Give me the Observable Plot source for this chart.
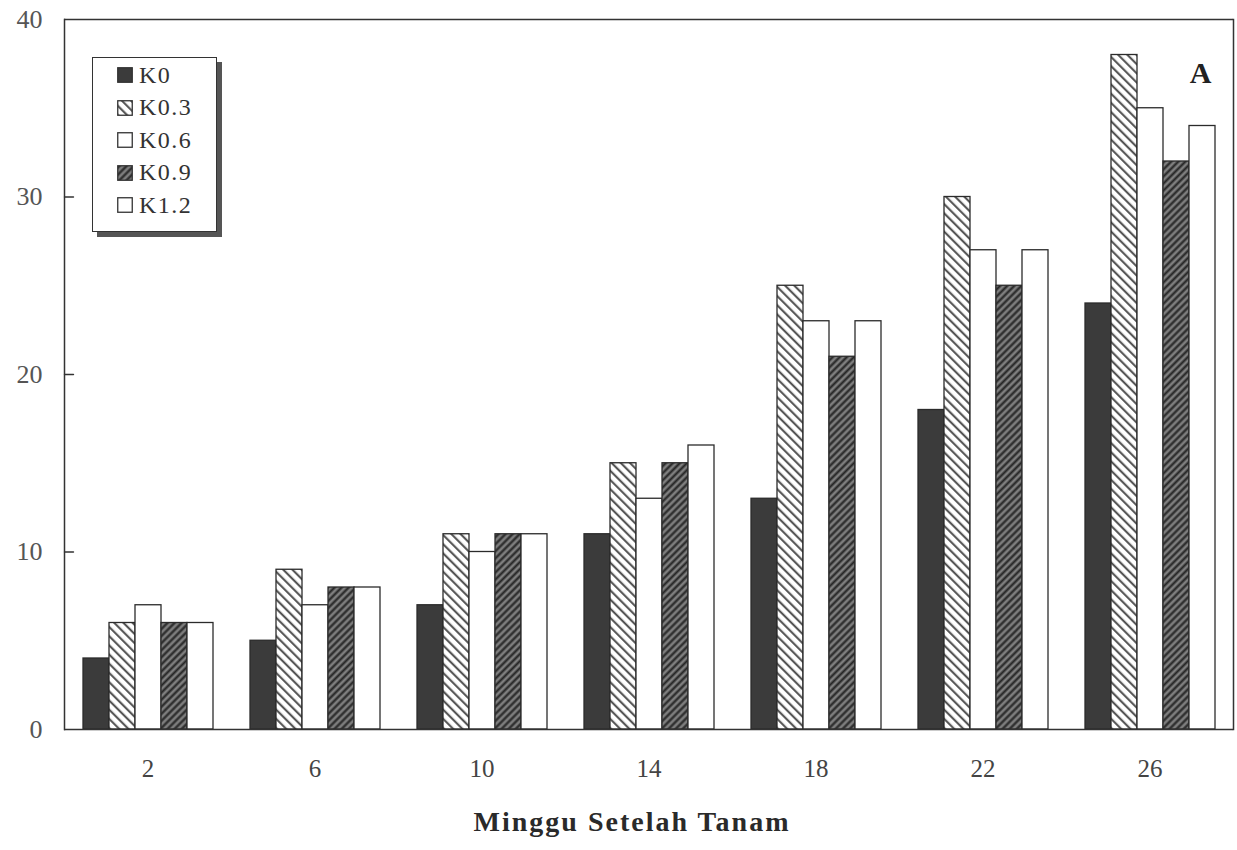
<!DOCTYPE html>
<html><head><meta charset="utf-8">
<script src="https://cdn.jsdelivr.net/npm/d3@7"></script>
<script src="https://cdn.jsdelivr.net/npm/@observablehq/plot@0.6"></script>
<style>
body{margin:0;background:#fff;font-family:"Liberation Serif","Times New Roman",serif;}
#wrap{position:relative;width:1237px;height:850px;}
#legend{position:absolute;left:92px;top:57px;width:125px;height:175px;border:1.5px solid #333;background:#fff;box-shadow:5px 5px 0 #555;box-sizing:border-box;padding:1px 0 0 24px;}
.item{display:flex;align-items:center;height:32.5px;font-size:24px;color:#333;letter-spacing:1.5px}
.item svg{margin-right:6px}
</style></head><body><div id="wrap"></div>
<script>
const weeks = ["2","6","10","14","18","22","26"];
const series = ["K0","K0.3","K0.6","K0.9","K1.2"];
const K0  = [4,5,7,11,13,18,24];
const K03 = [6,9,11,15,25,30,38];
const K06 = [7,7,10,13,23,27,35];
const K09 = [6,8,11,15,21,25,32];
const K12 = [6,8,11,16,23,27,34];
const yTicks = [0,10,20,30,40];
const innerTicks = [10,20,30];
const fills = ["#3b3b3b","url(#hatchLight)","#ffffff","url(#hatchDark)","#ffffff"];
const xTitle = "Minggu Setelah Tanam";
const panelLabel = "A";

const valuesBySeries = [K0,K03,K06,K09,K12];
const data = weeks.flatMap((w,i)=>series.map((s,j)=>({week:w, series:s, value:valuesBySeries[j][i]})));

const defsMarkup = `
<pattern id="hatchLight" patternUnits="userSpaceOnUse" width="6.5" height="6.5" patternTransform="rotate(-45)">
  <rect width="6.5" height="6.5" fill="#ffffff"/>
  <line x1="3" y1="0" x2="3" y2="6.5" stroke="#4a4a4a" stroke-width="2"/>
</pattern>
<pattern id="hatchDark" patternUnits="userSpaceOnUse" width="5" height="5" patternTransform="rotate(45)">
  <rect width="5" height="5" fill="#7e7e7e"/>
  <line x1="2.5" y1="0" x2="2.5" y2="5" stroke="#262626" stroke-width="2.2"/>
</pattern>`;

const tickShape = {draw(context, l){ context.moveTo(0, 0); context.lineTo(0, -l); }};

const plot = Plot.plot({
  width:1237, height:850, marginTop:19, marginBottom:121, marginLeft:62, marginRight:3,
  style:{fontFamily:"'Liberation Serif','Times New Roman',serif", fontSize:"25px", color:"#444", background:"transparent"},
  fx:{domain:weeks, padding:0, label:null, axis:null},
  x:{domain:series, paddingInner:0, paddingOuter:0.62, axis:null},
  y:{domain:[0,40], label:null, axis:null},
  color:{domain:series, range:fills},
  marks:[
    Plot.barY(data, {fx:"week", x:"series", y:"value", fill:"series", stroke:"#2b2b2b", strokeWidth:1.3}),
    Plot.ruleY([0], {stroke:"#333", strokeWidth:1.5}),
    Plot.ruleY([40], {stroke:"#333", strokeWidth:1.5}),
    Plot.frame({anchor:"left", facetAnchor:"left", stroke:"#333", strokeWidth:1.5}),
    Plot.frame({anchor:"right", facetAnchor:"right", stroke:"#333", strokeWidth:1.5}),
    Plot.axisY({ticks:yTicks, tickSize:0, tickPadding:22, label:null, fontSize:26, fill:"#555"}),
    Plot.vector(innerTicks, {y:d=>d, frameAnchor:"left", facetAnchor:"left", length:9, rotate:90, anchor:"start", shape:tickShape, stroke:"#333", strokeWidth:1.4}),
    Plot.axisFx({anchor:"bottom", tickSize:0, tickPadding:30, fontSize:25, fill:"#444", label:null}),
    Plot.text([xTitle], {text:d=>d, fx:()=>weeks[3], frameAnchor:"bottom", dy:101, dx:-17, fontSize:28, fontWeight:"bold", fill:"#2a2a2a"}),
    Plot.text([panelLabel], {text:d=>d, frameAnchor:"top-right", facetAnchor:"right", dx:-22, dy:42, fontSize:30, fontWeight:"bold", fill:"#222"})
  ]
});
const defs = document.createElementNS("http://www.w3.org/2000/svg","defs");
defs.innerHTML = defsMarkup;
plot.insertBefore(defs, plot.firstChild);
plot.querySelectorAll("text").forEach(t => {
  if (t.textContent === xTitle) { t.setAttribute("letter-spacing", "2"); t.style.letterSpacing = "2px"; }
});
const wrap = document.getElementById("wrap");
wrap.appendChild(plot);

const legend = document.createElement("div");
legend.id = "legend";
series.forEach((s,i)=>{
  const item = document.createElement("div");
  item.className = "item";
  item.innerHTML = `<svg width="16" height="16"><rect x="0.75" y="0.75" width="14.5" height="14.5" fill="${fills[i]}" stroke="#333" stroke-width="1.3"/></svg><span>${s}</span>`;
  legend.appendChild(item);
});
wrap.appendChild(legend);
</script></body></html>
